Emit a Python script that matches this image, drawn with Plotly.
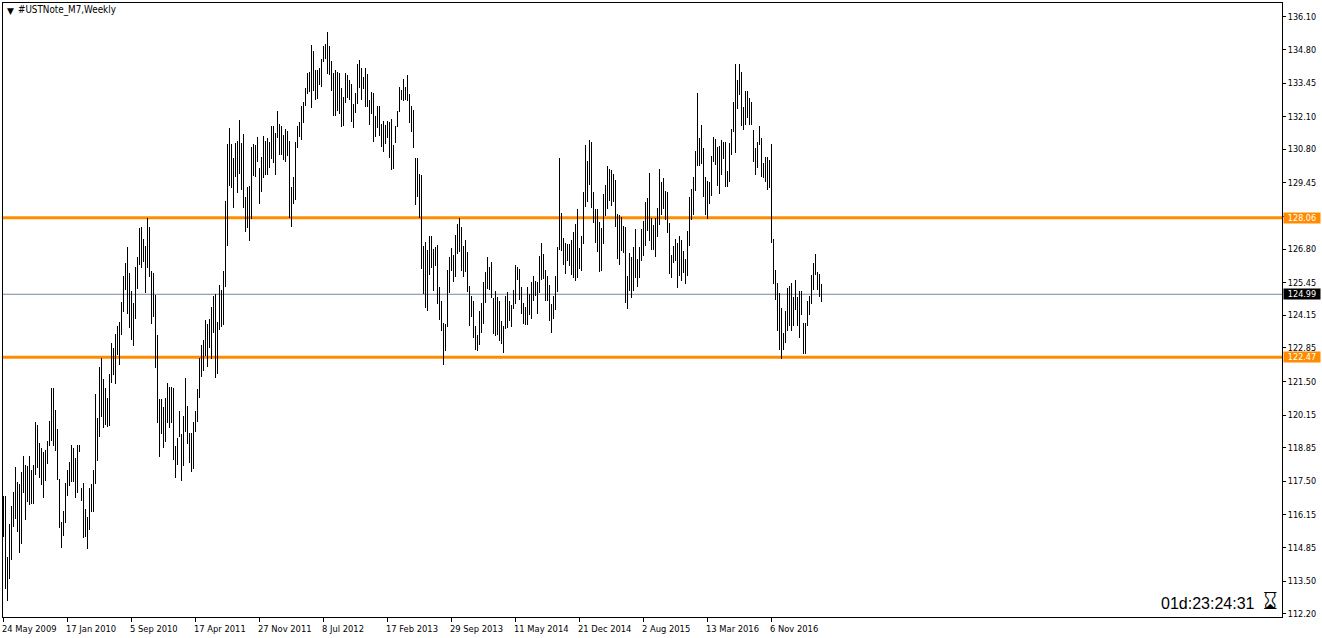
import plotly.graph_objects as go

symbol_title = "#USTNote_M7,Weekly"
countdown = "01d:23:24:31"

date_labels = ["24 May 2009", "17 Jan 2010", "5 Sep 2010", "17 Apr 2011", "27 Nov 2011", "8 Jul 2012",
               "17 Feb 2013", "29 Sep 2013", "11 May 2014", "21 Dec 2014", "2 Aug 2015", "13 Mar 2016", "6 Nov 2016"]
date_bar_index = [0, 32, 64, 96, 128, 160, 192, 224, 256, 288, 320, 352, 384]

price_ticks = [136.10, 134.80, 133.45, 132.10, 130.80, 129.45, 128.10, 126.80, 125.45, 124.15,
               122.85, 121.50, 120.15, 118.85, 117.50, 116.15, 114.85, 113.50, 112.20]

support_level = 122.47
resistance_level = 128.06
last_price = 124.99

highs = [
116.91,116.91,114.47,115.79,116.51,117.07,118.07,117.47,117.39,117.87,
118.51,118.15,118.11,118.51,117.95,118.15,119.88,119.76,119.03,118.83,
118.67,118.75,119.11,119.92,121.24,121.24,120.36,119.59,117.59,115.87,
116.31,117.43,117.95,118.27,118.95,118.83,118.43,118.95,118.95,117.23,
117.43,116.39,116.07,117.23,117.39,117.95,121.00,120.04,122.08,122.44,
121.60,121.24,120.84,121.80,123.04,122.84,123.40,123.72,123.88,124.68,
125.72,126.24,126.89,125.84,125.12,124.64,126.08,126.49,127.65,127.69,
127.21,126.93,128.05,127.69,125.93,125.84,124.96,123.36,120.80,120.80,
120.48,120.84,121.44,121.28,121.28,121.24,118.91,119.23,120.32,119.39,
120.12,121.64,120.52,119.43,119.43,119.88,120.32,121.20,122.44,122.96,
123.16,123.96,123.80,124.00,124.48,124.92,125.00,123.88,125.36,125.16,
125.93,128.73,131.01,131.65,131.01,130.45,131.05,131.13,131.97,131.05,
131.41,128.89,129.29,129.33,130.89,131.01,130.97,131.29,130.05,130.49,
131.33,131.13,131.25,131.09,131.73,131.73,131.45,132.33,131.81,131.73,
131.37,131.61,131.53,131.13,129.29,129.69,131.09,131.73,131.89,132.53,
132.69,133.26,133.86,133.90,134.98,134.74,133.98,133.98,134.06,134.42,
134.94,135.02,135.50,134.94,134.34,133.86,133.98,133.90,133.86,133.26,
132.89,133.86,133.78,133.58,133.42,132.61,133.05,134.22,134.38,134.06,
133.70,134.06,133.82,132.78,133.10,133.05,132.13,132.53,132.53,131.81,
131.93,131.77,131.93,131.89,132.01,130.97,131.73,132.33,133.30,133.18,
133.62,133.30,133.78,133.01,132.53,132.37,130.45,130.45,129.81,129.77,
126.93,127.09,126.77,127.33,127.33,126.81,126.89,126.97,125.28,124.72,
123.84,123.80,125.97,126.49,126.85,126.57,127.37,127.81,128.05,127.69,
126.93,127.17,126.69,125.32,124.92,124.72,123.72,123.36,124.32,124.64,
125.48,125.88,126.49,126.08,126.29,124.84,125.12,124.88,124.72,123.92,
123.72,124.92,125.08,124.72,124.56,125.16,126.17,126.08,126.00,125.28,
124.64,124.48,125.28,125.00,125.48,125.72,125.52,125.48,126.53,127.05,
126.61,125.97,125.72,125.36,124.60,124.92,125.72,126.89,130.45,128.25,
127.25,127.05,127.01,127.01,127.17,127.49,127.81,128.41,126.85,127.33,
129.09,130.97,130.33,131.17,131.09,129.09,128.41,128.41,127.89,127.65,
129.01,129.37,130.13,130.01,129.97,129.81,129.57,128.21,128.17,128.09,
127.73,127.69,125.72,126.65,126.49,126.89,127.61,126.41,126.89,127.61,
127.93,128.69,128.85,129.85,128.05,127.77,128.05,128.45,130.01,129.49,
129.65,129.13,129.09,127.85,126.57,126.93,127.21,127.05,127.33,127.17,
126.73,126.41,127.53,128.89,129.21,129.69,130.73,133.05,131.25,131.77,
130.85,129.69,129.53,129.49,130.53,131.29,131.21,130.89,130.93,131.17,
131.09,131.09,129.93,131.05,131.61,132.69,134.22,133.58,134.22,133.90,
132.49,133.14,133.14,132.86,132.69,131.57,130.85,131.09,131.73,131.25,
130.25,130.49,130.49,130.37,131.01,127.21,125.97,125.44,125.04,124.44,
123.44,124.32,125.24,125.32,125.44,124.88,125.57,124.88,125.12,125.12,
123.84,123.84,124.72,124.92,125.77,126.24,126.61,125.88,125.80,125.40,
]

lows = [
115.27,113.19,112.71,113.59,114.35,115.67,115.99,115.47,114.63,114.99,
117.03,115.95,116.67,116.55,116.59,116.59,117.75,118.03,117.63,117.35,
116.83,117.51,118.19,118.91,119.11,118.91,118.71,117.55,115.63,114.83,
115.31,115.83,116.91,117.31,117.47,117.47,116.83,117.03,118.67,116.71,
115.23,115.27,114.79,115.55,116.27,116.27,117.39,118.31,119.27,120.08,
119.63,119.76,119.67,119.71,121.44,121.76,121.40,122.56,122.16,123.36,
124.28,125.16,124.20,123.64,123.16,122.92,124.00,125.20,126.17,126.04,
126.29,125.04,126.04,125.68,123.80,124.08,122.04,119.84,118.47,119.39,
118.83,119.07,119.84,119.63,119.84,118.35,117.63,118.15,119.27,117.51,
118.11,119.47,118.99,118.23,117.87,117.99,119.47,119.88,120.84,121.68,
121.92,122.52,122.08,122.84,122.40,123.44,121.64,121.80,123.56,123.68,
123.76,125.28,126.93,129.33,129.25,128.45,129.69,129.05,129.81,129.17,
128.45,127.49,127.65,127.13,128.01,129.73,129.69,130.29,128.61,129.09,
129.65,129.77,129.77,130.05,130.41,130.25,129.77,131.25,130.57,130.57,
130.37,130.29,130.53,128.05,127.69,128.61,128.77,130.85,131.29,131.17,
131.85,132.53,133.01,133.10,132.45,133.14,132.78,132.82,133.38,133.30,
134.30,134.42,133.82,133.78,133.14,132.13,132.13,132.33,132.21,131.69,
131.73,132.65,132.86,132.78,131.89,131.65,132.25,132.61,133.26,132.78,
133.22,132.49,132.49,131.77,132.21,131.09,131.29,131.65,131.33,130.89,
130.69,131.01,131.25,130.45,129.97,130.01,131.05,131.69,132.29,132.78,
132.74,132.78,132.74,131.85,131.49,130.85,128.57,128.89,128.05,126.00,
125.00,124.44,124.32,125.77,126.04,125.12,126.12,124.60,123.96,123.52,
122.16,122.72,123.68,125.04,125.93,125.48,125.68,126.61,126.69,125.93,
125.68,125.88,125.08,123.72,124.08,123.24,122.76,122.72,122.96,123.44,
123.80,124.64,125.20,125.16,124.84,123.40,123.32,123.36,123.12,123.00,
122.64,123.60,123.64,123.92,123.68,124.40,124.60,125.57,124.76,124.20,
123.80,123.76,123.76,124.16,124.00,124.72,124.92,124.20,125.04,125.57,
125.60,124.72,124.72,123.92,123.44,124.00,124.36,125.08,126.77,126.73,
126.17,125.80,126.33,126.13,125.77,125.64,125.52,125.64,126.00,125.93,
127.01,128.49,128.69,129.37,128.45,127.85,127.05,126.69,125.88,125.93,
127.01,128.13,128.41,128.73,128.53,128.69,127.69,126.41,126.17,126.73,
126.65,124.64,124.40,125.12,124.84,125.12,125.64,125.28,125.64,126.33,
126.53,126.93,127.53,127.13,126.77,126.77,126.49,127.29,127.77,128.17,
128.41,127.97,127.45,125.80,125.64,126.24,126.33,125.24,125.72,125.52,
125.84,125.40,125.72,126.93,127.97,128.17,129.13,130.13,130.13,130.21,
128.89,128.17,128.01,128.61,128.93,130.29,130.17,129.33,129.01,129.77,
130.41,129.29,129.29,129.49,130.57,131.49,130.65,132.41,132.97,131.73,
131.57,131.77,132.05,131.77,131.77,130.29,129.77,130.05,130.97,129.69,
129.65,129.49,129.17,129.25,127.05,125.40,124.76,123.52,122.76,122.40,
122.76,123.04,123.52,123.72,123.52,123.72,124.36,123.72,123.24,124.16,
122.60,122.60,123.72,124.16,124.60,125.16,125.77,125.16,124.88,124.68,
]

bar_index = list(range(len(highs)))
ranges = [round(h - l, 2) for h, l in zip(highs, lows)]

ORANGE = "#FF8C00"
GREY = "#778899"
FONT_NAME = "DejaVu Sans Condensed, DejaVu Sans"
AXIS_FONT = dict(family=FONT_NAME, size=9, color="black")
DATE_FONT = dict(family=FONT_NAME, size=9.3, color="black")

fig = go.Figure()
fig.add_trace(go.Bar(x=bar_index, y=ranges, base=lows, width=0.48,
                     marker=dict(color="black", line=dict(width=0)),
                     hoverinfo="skip", showlegend=False))

for level, color, width in [(resistance_level, ORANGE, 3), (support_level, ORANGE, 3), (last_price, GREY, 1)]:
    fig.add_shape(type="line", xref="paper", x0=0, x1=1, yref="y", y0=level, y1=level,
                  line=dict(color=color, width=width), layer="below")

annotations = []
for label, idx in zip(date_labels, date_bar_index):
    annotations.append(dict(text=label, x=idx, xref="x", y=0, yref="paper", yanchor="top", yshift=-4,
                            xanchor="left", xshift=-4, showarrow=False, font=DATE_FONT))

for level, bg in [(resistance_level, ORANGE), (support_level, ORANGE), (last_price, "black")]:
    annotations.append(dict(text=f"{level:.2f}", x=1, xref="paper", xanchor="left", xshift=1,
                            y=level, yref="y", yanchor="middle", showarrow=False, bgcolor=bg,
                            width=34, height=8, borderpad=1,
                            font=dict(family=FONT_NAME, size=9, color="white")))

annotations.append(dict(text=symbol_title, x=13 / 1279, xref="paper", xanchor="left",
                        y=(617 - 10) / 614, yref="paper", yanchor="middle", showarrow=False,
                        font=dict(family=FONT_NAME, size=9.8, color="black")))
annotations.append(dict(text="▼", x=2 / 1279, xref="paper", xanchor="left",
                        y=(617 - 11) / 614, yref="paper", yanchor="middle", showarrow=False,
                        font=dict(family="DejaVu Sans", size=9, color="black")))
annotations.append(dict(text=countdown, x=(1257 - 3) / 1279, xref="paper", xanchor="right",
                        y=(617 - 603) / 614, yref="paper", yanchor="middle", showarrow=False,
                        font=dict(family="Liberation Sans", size=16, color="black")))
annotations.append(dict(text="⌛\ufe0e", x=(1270 - 3) / 1279, xref="paper", xanchor="center",
                        y=(617 - 601) / 614, yref="paper", yanchor="middle", showarrow=False,
                        font=dict(family="DejaVu Sans", size=23, color="black")))

fig.update_layout(
    width=1322, height=638,
    margin=dict(l=3, r=40, t=3, b=21, pad=0),
    plot_bgcolor="white", paper_bgcolor="white",
    showlegend=False, bargap=0,
    annotations=annotations,
    xaxis=dict(range=[-0.25, 639.25], showgrid=False, zeroline=False, fixedrange=True,
               tickmode="array", tickvals=date_bar_index, ticktext=[""] * len(date_bar_index),
               ticks="outside", ticklen=4, tickwidth=1, tickcolor="black",
               showline=True, linecolor="black", linewidth=1, mirror=True),
    yaxis=dict(range=[112.06, 136.66], side="right", showgrid=False, zeroline=False, fixedrange=True,
               tickmode="array", tickvals=price_ticks, ticktext=[f"{t:.2f}" for t in price_ticks],
               ticks="outside", ticklen=3, tickwidth=1, tickcolor="black", tickfont=AXIS_FONT,
               showline=True, linecolor="black", linewidth=1, mirror=True),
)

fig.write_html("out.html", config={"displayModeBar": False},
               post_script="document.body.style.margin='0';document.body.style.overflow='hidden';")
